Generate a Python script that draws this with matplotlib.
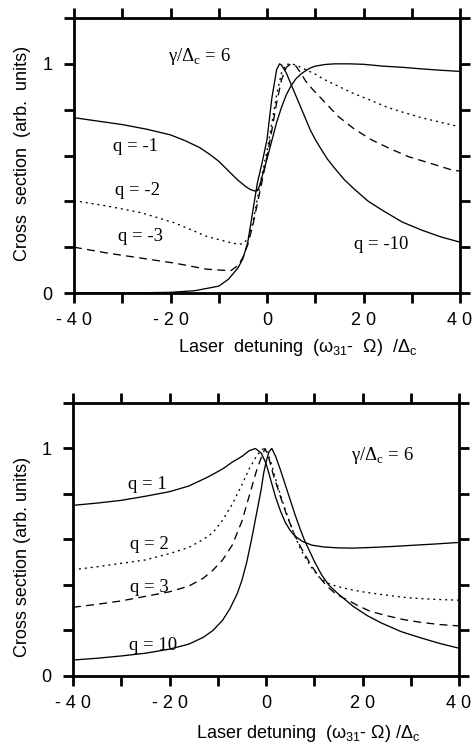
import matplotlib
matplotlib.use("Agg")
import matplotlib.pyplot as plt

plt.rcParams['mathtext.fontset'] = 'custom'
plt.rcParams['mathtext.rm'] = 'Liberation Serif'
plt.rcParams['mathtext.sf'] = 'Liberation Sans'

# ---- top panel (negative q) ----
qm10_x = [-40, -30, -20, -15, -10, -8, -6, -5, -4, -3, -2, -1, 0, 1, 2, 2.6, 3, 4, 5, 6, 7, 8, 9, 10, 11,
          12.5, 14, 16, 18, 21, 24, 28, 32, 36, 40]
qm10_y = [0.0, 0.0, 0.003, 0.01, 0.03, 0.06, 0.11, 0.15, 0.22, 0.35, 0.48, 0.57, 0.67, 0.85, 0.975, 1.0, 0.995,
          0.96, 0.91, 0.86, 0.81, 0.76, 0.71, 0.67, 0.635, 0.585, 0.545, 0.495, 0.455, 0.40, 0.36, 0.31, 0.275,
          0.245, 0.222]

qm1_x = [-40, -35, -30, -25, -20, -17, -14, -12, -10, -8, -6, -4.5, -3.5, -2.5, -2, -1.5, -1, 0, 1, 2, 3, 4,
         5, 6, 7, 8, 9, 10, 12, 14, 17, 20, 24, 28, 32, 36, 40]
qm1_y = [0.765, 0.75, 0.735, 0.715, 0.69, 0.665, 0.635, 0.607, 0.575, 0.533, 0.492, 0.466, 0.452, 0.445, 0.447,
         0.47, 0.51, 0.585, 0.665, 0.745, 0.81, 0.865, 0.905, 0.935, 0.955, 0.97, 0.982, 0.99, 0.997, 1.0, 1.0,
         0.998, 0.99, 0.985, 0.978, 0.972, 0.967]

qm2_x = [-40, -33, -26, -19, -12.5, -8, -6, -5, -4, -3, -2, -1, 0, 1, 2, 3, 4, 5, 6, 7, 8, 10, 12, 15, 18, 21,
         25, 28, 32, 36, 40]
qm2_y = [0.403, 0.379, 0.35, 0.305, 0.247, 0.222, 0.213, 0.215, 0.235, 0.30, 0.41, 0.52, 0.62, 0.74, 0.865, 0.96,
         0.997, 1.0, 0.995, 0.985, 0.975, 0.955, 0.93, 0.90, 0.87, 0.845, 0.81, 0.79, 0.765, 0.745, 0.725]

qm3_x = [-40, -33, -26, -19, -12.5, -9, -7.5, -6, -5, -4, -3, -2, -1, 0, 1, 2, 3, 4, 5, 6, 7, 8, 9.4, 12, 14.8,
         18, 21.7, 25.5, 29.3, 33.4, 38.3, 40]
qm3_y = [0.2, 0.174, 0.152, 0.13, 0.104, 0.099, 0.098, 0.12, 0.155, 0.21, 0.29, 0.39, 0.49, 0.595, 0.71, 0.83,
         0.93, 0.985, 1.0, 0.99, 0.96, 0.925, 0.89, 0.832, 0.77, 0.717, 0.668, 0.63, 0.595, 0.569, 0.537, 0.532]

# ---- bottom panel (positive q) ----
q1_x = [-40, -35, -30, -25, -20, -16, -12, -9, -7, -5, -3.5, -2.2, -1, 0, 1, 2, 3, 4, 5, 6, 7.5, 9.5, 12, 15,
        18, 22, 26, 30, 35, 40]
q1_y = [0.75, 0.76, 0.772, 0.79, 0.81, 0.835, 0.875, 0.91, 0.94, 0.965, 0.99, 1.0, 0.98, 0.935, 0.86, 0.785,
        0.725, 0.675, 0.64, 0.615, 0.592, 0.575, 0.567, 0.563, 0.562, 0.565, 0.569, 0.574, 0.58, 0.587]

q2_x = [-40, -35, -30, -25, -20, -16, -13, -11, -9, -7, -5, -3.5, -2, -1, -0.4, 0.2, 1, 2, 3, 4, 5, 6, 7, 8,
        9.5, 11, 12.5, 14.5, 17, 20, 24, 28, 32, 36, 40]
q2_y = [0.467, 0.48, 0.495, 0.51, 0.538, 0.565, 0.6, 0.63, 0.685, 0.755, 0.84, 0.91, 0.965, 0.993, 1.0, 0.985,
        0.94, 0.865, 0.795, 0.73, 0.67, 0.615, 0.565, 0.525, 0.475, 0.435, 0.41, 0.395, 0.382, 0.37, 0.358,
        0.347, 0.34, 0.336, 0.333]

q3_x = [-40, -35, -30, -25, -20, -16, -13, -11, -9, -7, -5, -3.5, -2, -1, -0.2, 0.5, 1.5, 2.5, 3.5, 4.5, 6,
        7.4, 9, 10.5, 12.5, 14.5, 16.7, 19, 21.5, 25, 28.5, 32, 36, 40]
q3_y = [0.302, 0.315, 0.33, 0.35, 0.37, 0.395, 0.43, 0.465, 0.51, 0.575, 0.68, 0.79, 0.9, 0.96, 1.0, 0.965,
        0.885, 0.82, 0.755, 0.695, 0.616, 0.558, 0.5, 0.45, 0.397, 0.36, 0.336, 0.31, 0.285, 0.265, 0.248,
        0.236, 0.226, 0.22]

q10_x = [-40, -35, -30, -25, -20, -16, -13, -11, -9, -7.5, -6, -5, -4, -3, -2, -1, -0.5, 0, 0.6, 1.2, 2, 3, 4,
         5, 6, 7, 8, 9, 10, 11.5, 13, 15, 18, 21, 24, 28, 32, 36, 40]
q10_y = [0.07, 0.078, 0.088, 0.1, 0.118, 0.14, 0.17, 0.2, 0.245, 0.295, 0.36, 0.42, 0.5, 0.6, 0.71, 0.82, 0.89,
         0.94, 0.985, 1.0, 0.965, 0.905, 0.84, 0.775, 0.71, 0.65, 0.595, 0.55, 0.505, 0.445, 0.40, 0.36, 0.307,
         0.265, 0.232, 0.195, 0.168, 0.143, 0.122]

xtick_vals = [-40, -20, 0, 20, 40]
xtick_text = ["- 4 0", "- 2 0", "0", "2 0", "4 0"]

SOLID = '-'
DOTTED = (0, (1.5, 3))
DASHED = (0, (6, 4))

top_curves = [(qm1_x, qm1_y, SOLID), (qm2_x, qm2_y, DOTTED), (qm3_x, qm3_y, DASHED), (qm10_x, qm10_y, SOLID)]
bot_curves = [(q1_x, q1_y, SOLID), (q2_x, q2_y, DOTTED), (q3_x, q3_y, DASHED), (q10_x, q10_y, SOLID)]

top_labels = [("q = -1", -27.2, 0.64), ("q = -2", -26.9, 0.447), ("q = -3", -26.3, 0.246), ("q = -10", 23.6, 0.21)]
bot_labels = [("q = 1", -24.5, 0.84), ("q = 2", -24.2, 0.58), ("q = 3", -24.2, 0.39), ("q = 10", -23.4, 0.133)]

fig = plt.figure(figsize=(4.72, 7.5), dpi=100)
ax_top = fig.add_axes([0.1568, 0.6093, 0.8178, 0.3667])
ax_bot = fig.add_axes([0.1547, 0.0987, 0.8178, 0.364])


def style_axes(ax):
  ax.set_xlim(-40, 40)
  ax.set_ylim(0, 1.2)
  for s in ax.spines.values():
    s.set_linewidth(2.0)
  ax.set_xticks(range(-40, 41, 10))
  ax.set_xticklabels([xtick_text[xtick_vals.index(v)] if v in xtick_vals else "" for v in range(-40, 41, 10)])
  ax.set_yticks([0, 0.2, 0.4, 0.6, 0.8, 1.0, 1.2])
  ax.set_yticklabels(["0", "", "", "", "", "1", ""])
  ax.tick_params(direction='out', length=7.5, width=2.0, top=True, right=True, pad=6,
                 labelsize=13, labelfontfamily='Liberation Sans')
  ax.tick_params(axis='y', pad=8)


for ax, curves, labels in ((ax_top, top_curves, top_labels), (ax_bot, bot_curves, bot_labels)):
  style_axes(ax)
  for xs, ys, ls in curves:
    ax.plot(xs, ys, color='black', lw=0.95, ls=ls, solid_joinstyle='round')
  for txt, tx, ty in labels:
    ax.text(tx, ty, txt, ha='center', va='center', fontsize=13.5, family='Liberation Serif')

ax_top.text(-13.9, 1.03, r"γ/Δ$_{\mathrm{c}}$ = 6", ha='center', va='center', fontsize=13.5,
            family='Liberation Serif')
ax_bot.text(24.2, 0.97, r"γ/Δ$_{\mathrm{c}}$ = 6", ha='center', va='center', fontsize=13.5,
            family='Liberation Serif')

fig.text(0.048, 0.796, "Cross  section  (arb.  units)", rotation=90, ha='center', va='center', fontsize=13,
         family='Liberation Sans')
fig.text(0.048, 0.257, "Cross section (arb. units)", rotation=90, ha='center', va='center', fontsize=13,
         family='Liberation Sans')

fig.text(0.63, 1 - 347 / 750, r"Laser  detuning  (ω$_{\mathsf{31}}$-  Ω)  /Δ$_{\mathsf{c}}$", ha='center',
         va='center', fontsize=13, family='Liberation Sans')
fig.text(0.653, 1 - 734 / 750, r"Laser detuning  (ω$_{\mathsf{31}}$- Ω) /Δ$_{\mathsf{c}}$", ha='center',
         va='center', fontsize=13, family='Liberation Sans')

fig.savefig("out.png", dpi=100)
